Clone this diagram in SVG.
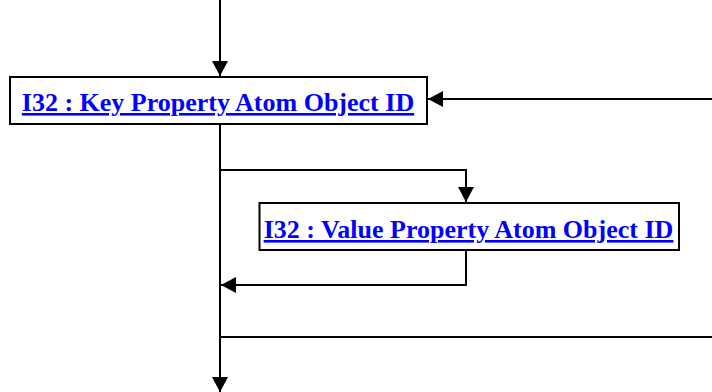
<svg xmlns="http://www.w3.org/2000/svg" width="712" height="392" viewBox="0 0 712 392">
<defs>
<marker id="ah" viewBox="0 0 15 16" refX="15" refY="8" markerWidth="15" markerHeight="16" markerUnits="userSpaceOnUse" orient="auto">
<path d="M0,0 L15,8 L0,16 Z" fill="#000"/>
</marker>
<style>
.box{fill:#fff;stroke:#000;stroke-width:2}
.lbl{font-family:"Liberation Serif","Times New Roman",serif;font-weight:bold;font-size:26px;fill:#0000ff;text-decoration:underline;text-anchor:middle}
.c{fill:none;stroke:#000;stroke-width:2}
</style>
</defs>
<g id="connectors">
<path class="c" d="M220,0 V76" marker-end="url(#ah)"/>
<path class="c" d="M712,99 H428" marker-end="url(#ah)"/>
<path class="c" d="M220,124 V392" marker-end="url(#ah)"/>
<path class="c" d="M220,170 H466 V202" marker-end="url(#ah)"/>
<path class="c" d="M466,250 V285 H221" marker-end="url(#ah)"/>
<path class="c" d="M220,337 H712"/>
</g>
<g id="node1">
<rect class="box" x="10" y="77" width="417" height="47"/>
<text class="lbl" x="218" y="111">I32 : Key Property Atom Object ID</text>
</g>
<g id="node2">
<rect class="box" x="259.5" y="203" width="419.5" height="47"/>
<text class="lbl" x="468.5" y="238">I32 : Value Property Atom Object ID</text>
</g>
</svg>
